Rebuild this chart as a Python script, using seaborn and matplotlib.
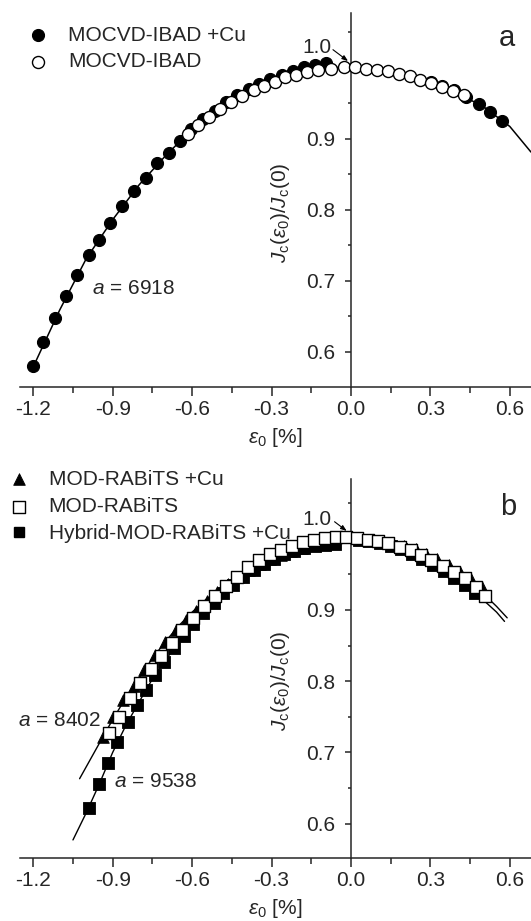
import numpy as np
import matplotlib
matplotlib.use("Agg")
import matplotlib.pyplot as plt
import seaborn as sns
from matplotlib.ticker import MultipleLocator, FuncFormatter

# --- panel a: MOCVD-IBAD ---
cu_a_strain = [-1.201, -1.162, -1.118, -1.076, -1.033, -0.991, -0.950, -0.909, -0.863, -0.819,
               -0.776, -0.732, -0.688, -0.644, -0.605, -0.560, -0.515, -0.473, -0.432, -0.387,
               -0.349, -0.304, -0.262, -0.219, -0.178, -0.137, -0.095,
               0.303, 0.344, 0.388, 0.433, 0.482, 0.526, 0.572]
cu_a_jc = [0.580, 0.614, 0.648, 0.678, 0.708, 0.736, 0.758, 0.781, 0.805, 0.826,
           0.845, 0.865, 0.880, 0.897, 0.913, 0.927, 0.939, 0.952, 0.961, 0.970,
           0.977, 0.984, 0.990, 0.995, 1.000, 1.003, 1.006,
           0.980, 0.974, 0.968, 0.959, 0.948, 0.938, 0.925]

ibad_strain = [-0.617, -0.578, -0.535, -0.494, -0.453, -0.410, -0.368, -0.328, -0.288, -0.249,
               -0.206, -0.167, -0.124, -0.076, -0.028, 0.014, 0.055, 0.097, 0.140, 0.181,
               0.222, 0.260, 0.303, 0.344, 0.386, 0.427]
ibad_jc = [0.907, 0.919, 0.930, 0.941, 0.952, 0.960, 0.968, 0.974, 0.980, 0.986,
           0.990, 0.994, 0.997, 0.998, 1.001, 1.001, 0.998, 0.997, 0.995, 0.991,
           0.988, 0.983, 0.978, 0.973, 0.967, 0.961]

fit_a_strain = [-1.205, -1.1, -1.0, -0.9, -0.8, -0.7, -0.6, -0.5, -0.4, -0.3,
                -0.2, -0.1, 0.0, 0.1, 0.2, 0.3, 0.4, 0.5, 0.6, 0.68]
fit_a_jc = [0.575, 0.659, 0.731, 0.786, 0.835, 0.876, 0.913, 0.943, 0.966, 0.984,
            0.995, 1.000, 1.000, 0.996, 0.989, 0.979, 0.964, 0.945, 0.917, 0.881]

# --- panel b: MOD-RABiTS ---
tri_strain = [-0.936, -0.898, -0.860, -0.820, -0.782, -0.741, -0.703, -0.662, -0.624, -0.585,
              -0.545, -0.505, -0.465, -0.425, -0.385, -0.345, -0.305, -0.265, -0.225, -0.185,
              -0.145, -0.105, -0.065,
              0.12, 0.16, 0.20, 0.245, 0.285, 0.325, 0.37, 0.41, 0.455, 0.495]
tri_jc = [0.722, 0.749, 0.774, 0.793, 0.816, 0.837, 0.855, 0.872, 0.886, 0.899,
          0.913, 0.925, 0.937, 0.947, 0.956, 0.964, 0.971, 0.977, 0.983, 0.987,
          0.991, 0.993, 0.995,
          0.997, 0.994, 0.990, 0.985, 0.978, 0.971, 0.963, 0.954, 0.943, 0.932]

rabits_strain = [-0.913, -0.875, -0.835, -0.797, -0.757, -0.717, -0.677, -0.637, -0.597, -0.555,
                 -0.514, -0.472, -0.430, -0.389, -0.347, -0.306, -0.263, -0.221, -0.181, -0.140,
                 -0.099, -0.058, -0.017, 0.024, 0.064, 0.102, 0.140, 0.184, 0.228, 0.266,
                 0.303, 0.347, 0.388, 0.429, 0.471, 0.508]
rabits_jc = [0.727, 0.750, 0.776, 0.797, 0.817, 0.836, 0.854, 0.872, 0.889, 0.905,
             0.920, 0.934, 0.947, 0.960, 0.970, 0.978, 0.984, 0.990, 0.995, 0.999,
             1.001, 1.002, 1.002, 1.001, 0.999, 0.997, 0.994, 0.989, 0.984, 0.977,
             0.970, 0.962, 0.953, 0.945, 0.932, 0.919]

hyb_strain = [-0.989, -0.952, -0.917, -0.883, -0.844, -0.808, -0.776, -0.740, -0.705, -0.669,
              -0.631, -0.595, -0.558, -0.519, -0.483, -0.445, -0.406, -0.368, -0.329, -0.291,
              -0.253, -0.214, -0.176, -0.137, -0.099, -0.060,
              0.03, 0.07, 0.11, 0.15, 0.19, 0.23, 0.27, 0.31, 0.35, 0.39, 0.43, 0.47]
hyb_jc = [0.6225, 0.655, 0.685, 0.715, 0.742, 0.766, 0.788, 0.809, 0.827, 0.846,
          0.864, 0.881, 0.896, 0.910, 0.924, 0.935, 0.946, 0.956, 0.965, 0.972,
          0.978, 0.983, 0.987, 0.990, 0.992, 0.993,
          0.999, 0.997, 0.994, 0.990, 0.985, 0.979, 0.971, 0.963, 0.955, 0.945, 0.935, 0.924]

fit_b1_strain = [-1.025, -0.95, -0.9, -0.85, -0.8, -0.75, -0.7, -0.65, -0.6, -0.55,
                 -0.5, -0.45, -0.4, -0.35, -0.3, -0.25, -0.2, -0.15, -0.1, -0.05,
                 0.0, 0.05, 0.1, 0.15, 0.2, 0.25, 0.3, 0.35, 0.4, 0.45, 0.5, 0.55, 0.59]
fit_b1_jc = [0.663, 0.713, 0.746, 0.777, 0.805, 0.832, 0.856, 0.878, 0.897, 0.914,
             0.929, 0.943, 0.955, 0.966, 0.975, 0.983, 0.989, 0.994, 0.998, 1.000,
             1.001, 1.000, 0.997, 0.993, 0.988, 0.981, 0.972, 0.962, 0.951, 0.938, 0.923, 0.905, 0.889]

fit_b2_strain = [-1.05, -1.0, -0.95, -0.9, -0.85, -0.8, -0.75, -0.7, -0.65, -0.6,
                 -0.55, -0.5, -0.45, -0.4, -0.35, -0.3, -0.25, -0.2, -0.15, -0.1,
                 -0.05, 0.0, 0.05, 0.1, 0.15, 0.2, 0.25, 0.3, 0.35, 0.4, 0.45, 0.5, 0.55, 0.58]
fit_b2_jc = [0.577, 0.615, 0.656, 0.700, 0.738, 0.771, 0.803, 0.830, 0.855, 0.879,
             0.899, 0.918, 0.934, 0.948, 0.960, 0.970, 0.978, 0.985, 0.990, 0.993,
             0.995, 0.996, 0.996, 0.994, 0.990, 0.984, 0.976, 0.967, 0.956, 0.944, 0.930, 0.914, 0.897, 0.884]

sns.set_style("ticks")
plt.rcParams['font.family'] = ['Liberation Sans', 'DejaVu Sans']
plt.rcParams['mathtext.fontset'] = 'custom'
plt.rcParams['mathtext.rm'] = 'Liberation Sans'
plt.rcParams['mathtext.it'] = 'Liberation Sans:italic'
plt.rcParams['axes.unicode_minus'] = False

FS = 15
XLIM = (-1.25, 0.68)


def fmt_x(v, pos):
    if abs(v) < 1e-9:
        v = 0.0
    return f"{v:.1f}"


def fmt_y(v, pos):
    # 1.0 is labelled separately with an arrow
    if v > 0.95:
        return ""
    return f"{v:.1f}"


def style_axis(ax, ylim):
    ax.set_xlim(*XLIM)
    ax.set_ylim(*ylim)
    ax.spines['left'].set_position(('data', 0))
    ax.spines['top'].set_visible(False)
    ax.spines['right'].set_visible(False)
    for s in ('left', 'bottom'):
        ax.spines[s].set_linewidth(1.1)
    ax.xaxis.set_major_locator(MultipleLocator(0.3))
    ax.xaxis.set_minor_locator(MultipleLocator(0.15))
    ax.yaxis.set_major_locator(MultipleLocator(0.1))
    ax.yaxis.set_minor_locator(MultipleLocator(0.05))
    ax.xaxis.set_major_formatter(FuncFormatter(fmt_x))
    ax.yaxis.set_major_formatter(FuncFormatter(fmt_y))
    ax.tick_params(axis='x', which='major', length=6.5, width=1.1, labelsize=FS, pad=3)
    ax.tick_params(axis='x', which='minor', length=4.3, width=1.1)
    ax.tick_params(axis='y', which='major', length=4.5, width=1.1, labelsize=FS, pad=7)
    ax.tick_params(axis='y', which='minor', length=2.5, width=1.1)
    ax.set_xlabel(r'$\varepsilon_0$ [%]', fontsize=FS, labelpad=5)
    ax.set_ylabel('')


def axis_texts(ax, one_y, arrow_tail, arrow_tip, ylab_y, letter, letter_pos):
    ax.text(-0.13, one_y, '1.0', fontsize=FS, ha='center', va='center')
    ax.annotate('', xy=arrow_tip, xytext=arrow_tail,
                arrowprops=dict(arrowstyle='-|>,head_length=0.35,head_width=0.13',
                                color='black', lw=0.8, shrinkA=0, shrinkB=0))
    ax.text(-0.265, ylab_y, r'$J_{\rm c}(\varepsilon_0)/J_{\rm c}(0)$', rotation=90,
            fontsize=FS, ha='center', va='center')
    ax.text(letter_pos[0], letter_pos[1], letter, fontsize=21, ha='center', va='center')


fig = plt.figure(figsize=(5.31, 9.21), dpi=100)
ax_a = fig.add_axes([0.0377, 0.5801, 0.9623, 0.4061])
ax_b = fig.add_axes([0.0377, 0.0687, 0.9623, 0.4112])

# ---------- panel a ----------
sns.lineplot(x=fit_a_strain, y=fit_a_jc, ax=ax_a, color='black', lw=1.1, sort=False,
             legend=False, zorder=1)
sns.scatterplot(x=cu_a_strain, y=cu_a_jc, ax=ax_a, marker='o', s=75, color='black',
                edgecolor='black', linewidth=0.8, label='MOCVD-IBAD +Cu', zorder=3)
sns.scatterplot(x=ibad_strain, y=ibad_jc, ax=ax_a, marker='o', s=75, color='white',
                edgecolor='black', linewidth=1.0, label='MOCVD-IBAD', zorder=4)
style_axis(ax_a, (0.551, 1.077))
axis_texts(ax_a, 1.028, (-0.068, 1.025), (-0.011, 1.009), 0.795, 'a', (0.587, 1.041))
ax_a.text(-0.977, 0.689, r'$a$ = 6918', fontsize=FS, ha='left', va='center')
ax_a.legend(loc='upper left', bbox_to_anchor=(0.0525, 0.972), bbox_transform=fig.transFigure,
            frameon=False, fontsize=FS, borderpad=0, borderaxespad=0, handlelength=1.0,
            handletextpad=0.94, labelspacing=0.36)

# ---------- panel b ----------
sns.lineplot(x=fit_b1_strain, y=fit_b1_jc, ax=ax_b, color='black', lw=1.0, sort=False,
             legend=False, zorder=1)
sns.lineplot(x=fit_b2_strain, y=fit_b2_jc, ax=ax_b, color='black', lw=1.0, sort=False,
             legend=False, zorder=1)
sns.scatterplot(x=tri_strain, y=tri_jc, ax=ax_b, marker='^', s=70, color='black',
                edgecolor='black', linewidth=0.6, label='MOD-RABiTS +Cu', zorder=2)
sns.scatterplot(x=hyb_strain, y=hyb_jc, ax=ax_b, marker='s', s=68, color='black',
                edgecolor='black', linewidth=0.6, zorder=3)
sns.scatterplot(x=rabits_strain, y=rabits_jc, ax=ax_b, marker='s', s=68, color='white',
                edgecolor='black', linewidth=1.0, label='MOD-RABiTS', zorder=4)
style_axis(ax_b, (0.552, 1.084))
axis_texts(ax_b, 1.027, (-0.062, 1.024), (-0.016, 1.011), 0.80, 'b', (0.594, 1.045))
ax_b.text(-1.259, 0.745, r'$a$ = 8402', fontsize=FS, ha='left', va='center')
ax_b.text(-0.894, 0.659, r'$a$ = 9538', fontsize=FS, ha='left', va='center')

# legend order: triangles, open squares, hybrid
handles, labels = ax_b.get_legend_handles_labels()
hyb_handle = plt.Line2D([], [], marker='s', ls='', color='black', markersize=7.5)
ax_b.legend([handles[0], handles[1], hyb_handle],
            ['MOD-RABiTS +Cu', 'MOD-RABiTS', 'Hybrid-MOD-RABiTS +Cu'],
            loc='upper left', bbox_to_anchor=(0.0154, 0.490), bbox_transform=fig.transFigure,
            frameon=False, fontsize=FS, borderpad=0, borderaxespad=0, handlelength=1.0,
            handletextpad=0.94, labelspacing=0.4)

plt.savefig("out.png", dpi=100)
